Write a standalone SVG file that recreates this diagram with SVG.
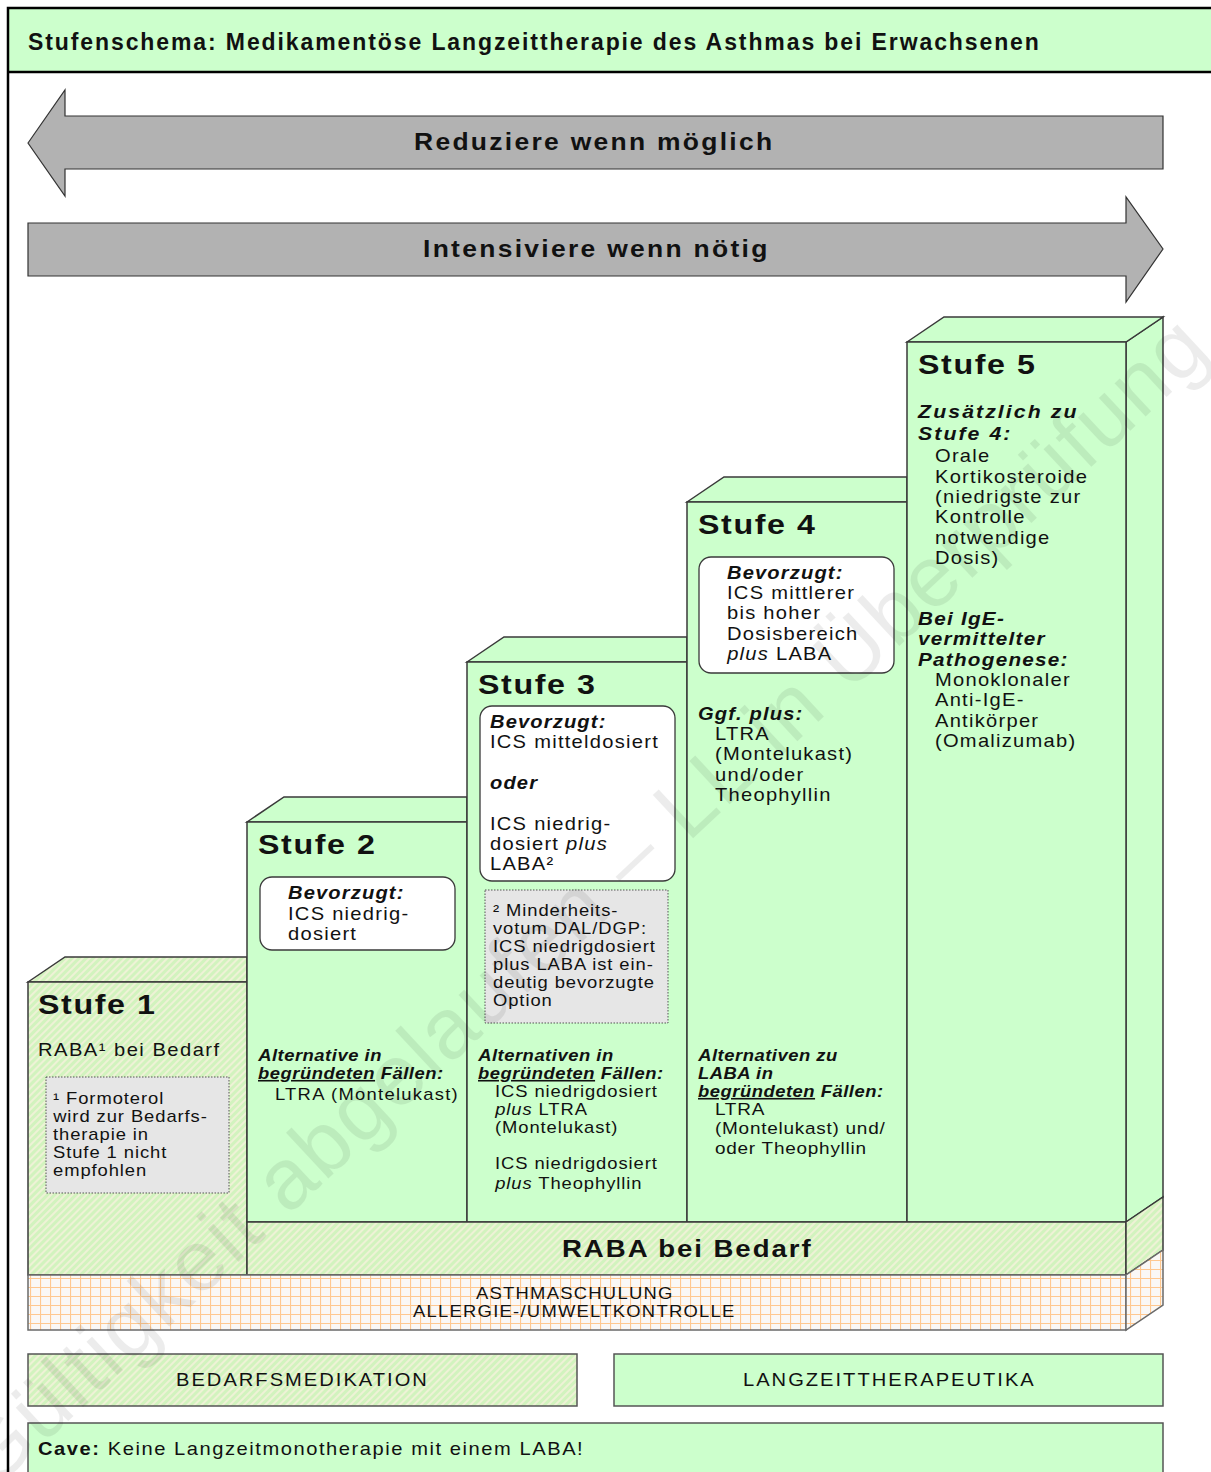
<svg xmlns="http://www.w3.org/2000/svg" width="1211" height="1472" viewBox="0 0 1211 1472">
<defs>
<pattern id="hatch" width="5" height="5" patternUnits="userSpaceOnUse" patternTransform="rotate(-45)">
<rect width="5" height="5" fill="#D2F3BE"/>
<rect width="5" height="2" fill="#EEF2D6"/>
</pattern>
<pattern id="grid" width="10" height="9" patternUnits="userSpaceOnUse">
<rect width="10" height="9" fill="#FAF8F6"/>
<path d="M0 0.5H10M0.5 0V9" stroke="#FFC890" stroke-width="1.2" fill="none"/>
</pattern>
<style>
text{font-family:"Liberation Sans",Arial,sans-serif;fill:#111}
text.x{transform-box:fill-box;transform-origin:0 50%;transform:scale(1.15,1)}
.title{font-weight:bold;font-size:23px;letter-spacing:1.9px}
.arr{font-weight:bold;font-size:23px;letter-spacing:2px}
.stufe{font-weight:bold;font-size:28px;letter-spacing:1.4px}
.hd{font-weight:bold;font-style:italic;font-size:17.5px;letter-spacing:1px}
.hd5{font-weight:bold;font-style:italic;font-size:18.5px;letter-spacing:1.8px}
.hd6{font-weight:bold;font-style:italic;font-size:18px;letter-spacing:1.1px}
.alt{font-weight:bold;font-style:italic;font-size:16px;letter-spacing:0.45px}
.b{font-size:17.5px;letter-spacing:1.1px}
.b5{font-size:17.5px;letter-spacing:1.1px}
.s{font-size:16px;letter-spacing:0.8px}
.s4{font-size:16.5px;letter-spacing:0.65px}
.lab{font-size:17.5px;letter-spacing:1.75px}
.band{font-size:16px;letter-spacing:1.1px}
.raba{font-weight:bold;font-size:24px;letter-spacing:1.7px}
.i{font-style:italic}
.u{text-decoration:underline}
.edge{stroke:#3a3a3a;stroke-width:1.5;stroke-linejoin:miter}
.green{fill:#CCFFCC}
.hatch{fill:url(#hatch)}
.grid{fill:url(#grid);stroke:#6a6a6a;stroke-width:1.5}
.wbox{fill:#FFFFFF;stroke:#3a3a3a;stroke-width:1.3}
.fn{fill:#E6E6E6;stroke:#555;stroke-width:1;stroke-dasharray:1.5 1.5}
.arrow{fill:#B2B2B2;stroke:#333;stroke-width:1.2}
</style>
</defs>

<rect x="0" y="0" width="1211" height="1472" fill="#FFFFFF"/>

<g id="frame">
<rect x="8" y="8" width="1210" height="64" fill="#CCFFCC"/>
<path d="M8 1472V8H1211M8 72H1211" stroke="#000" stroke-width="2.5" fill="none"/>
<text class="title" x="28" y="50">Stufenschema: Medikamentöse Langzeittherapie des Asthmas bei Erwachsenen</text>
</g>

<g id="arrows">
<g id="reduce">
<polygon class="arrow" points="28,143 65,90 65,116 1163,116 1163,169 65,169 65,196"/>
<text class="arr x" x="414" y="150">Reduziere wenn möglich</text>
</g>
<g id="intensify">
<polygon class="arrow" points="28,223 1126,223 1126,197 1163,249 1126,302 1126,276 28,276"/>
<text class="arr x" x="423" y="257">Intensiviere wenn nötig</text>
</g>
</g>

<g id="blocks">
<polygon class="green edge" points="1126,342 1163,317 1163,1197 1126,1222"/>
<polygon class="hatch edge" points="28,982 65,957 247,957 247,982"/>
<polygon class="green edge" points="247,822 284,797 467,797 467,822"/>
<polygon class="green edge" points="467,662 504,637 687,637 687,662"/>
<polygon class="green edge" points="687,502 724,477 907,477 907,502"/>
<polygon class="green edge" points="907,342 944,317 1163,317 1126,342"/>
<rect class="hatch edge" x="28" y="982" width="219" height="293"/>
<rect class="green edge" x="247" y="822" width="220" height="400"/>
<rect class="green edge" x="467" y="662" width="220" height="560"/>
<rect class="green edge" x="687" y="502" width="220" height="720"/>
<rect class="green edge" x="907" y="342" width="219" height="880"/>
</g>

<g id="stufe1">
<text class="stufe x" x="38" y="1014">Stufe 1</text>
<text class="b x" x="38" y="1056" style="letter-spacing:1.3px">RABA¹ bei Bedarf</text>
<rect class="fn" x="46" y="1077" width="183" height="116"/>
<text class="s x" x="53" y="1104">¹ Formoterol</text>
<text class="s x" x="53" y="1122">wird zur Bedarfs-</text>
<text class="s x" x="53" y="1140">therapie in</text>
<text class="s x" x="53" y="1158">Stufe 1 nicht</text>
<text class="s x" x="53" y="1176">empfohlen</text>
</g>

<g id="stufe2">
<text class="stufe x" x="258" y="854">Stufe 2</text>
<rect class="wbox" x="260" y="877" width="195" height="73" rx="12"/>
<text class="hd x" x="288" y="899">Bevorzugt:</text>
<text class="b x" x="288" y="920">ICS niedrig-</text>
<text class="b x" x="288" y="940">dosiert</text>
<text class="alt x" x="258" y="1061">Alternative in</text>
<text class="alt x" x="258" y="1079"><tspan class="u">begründeten</tspan> Fällen:</text>
<text class="s x" x="275" y="1100" style="letter-spacing:1.1px">LTRA (Montelukast)</text>
</g>

<g id="stufe3">
<text class="stufe x" x="478" y="694">Stufe 3</text>
<rect class="wbox" x="480" y="706" width="195" height="175" rx="12"/>
<text class="hd x" x="490" y="728">Bevorzugt:</text>
<text class="b x" x="490" y="748">ICS mitteldosiert</text>
<text class="hd x" x="490" y="789">oder</text>
<text class="b x" x="490" y="830">ICS niedrig-</text>
<text class="b x" x="490" y="850">dosiert <tspan class="i">plus</tspan></text>
<text class="b x" x="490" y="870">LABA²</text>
<rect class="fn" x="485" y="890" width="183" height="133"/>
<text class="s x" x="493" y="916">² Minderheits-</text>
<text class="s x" x="493" y="934">votum DAL/DGP:</text>
<text class="s x" x="493" y="952">ICS niedrigdosiert</text>
<text class="s x" x="493" y="970">plus LABA ist ein-</text>
<text class="s x" x="493" y="988">deutig bevorzugte</text>
<text class="s x" x="493" y="1006">Option</text>
<text class="alt x" x="478" y="1061">Alternativen in</text>
<text class="alt x" x="478" y="1079"><tspan class="u">begründeten</tspan> Fällen:</text>
<text class="s x" x="495" y="1097">ICS niedrigdosiert</text>
<text class="s x" x="495" y="1115"><tspan class="i">plus</tspan> LTRA</text>
<text class="s x" x="495" y="1133">(Montelukast)</text>
<text class="s x" x="495" y="1169">ICS niedrigdosiert</text>
<text class="s x" x="495" y="1189"><tspan class="i">plus</tspan> Theophyllin</text>
</g>

<g id="stufe4">
<text class="stufe x" x="698" y="534">Stufe 4</text>
<rect class="wbox" x="699" y="557" width="195" height="116" rx="12"/>
<text class="hd x" x="727" y="579">Bevorzugt:</text>
<text class="b x" x="727" y="599">ICS mittlerer</text>
<text class="b x" x="727" y="619">bis hoher</text>
<text class="b x" x="727" y="640">Dosisbereich</text>
<text class="b x" x="727" y="660"><tspan class="i">plus</tspan> LABA</text>
<text class="hd x" x="698" y="720">Ggf. plus:</text>
<text class="b x" x="715" y="740">LTRA</text>
<text class="b x" x="715" y="760">(Montelukast)</text>
<text class="b x" x="715" y="781">und/oder</text>
<text class="b x" x="715" y="801">Theophyllin</text>
<text class="alt x" x="698" y="1061">Alternativen zu</text>
<text class="alt x" x="698" y="1079">LABA in</text>
<text class="alt x" x="698" y="1097"><tspan class="u">begründeten</tspan> Fällen:</text>
<text class="s4 x" x="715" y="1115">LTRA</text>
<text class="s4 x" x="715" y="1134">(Montelukast) und/</text>
<text class="s4 x" x="715" y="1154">oder Theophyllin</text>
</g>

<g id="stufe5">
<text class="stufe x" x="918" y="374">Stufe 5</text>
<text class="hd5 x" x="918" y="418">Zusätzlich zu</text>
<text class="hd5 x" x="918" y="440">Stufe 4:</text>
<text class="b5 x" x="935" y="462">Orale</text>
<text class="b5 x" x="935" y="483">Kortikosteroide</text>
<text class="b5 x" x="935" y="503">(niedrigste zur</text>
<text class="b5 x" x="935" y="523">Kontrolle</text>
<text class="b5 x" x="935" y="544">notwendige</text>
<text class="b5 x" x="935" y="564">Dosis)</text>
<text class="hd6 x" x="918" y="625">Bei IgE-</text>
<text class="hd6 x" x="918" y="645">vermittelter</text>
<text class="hd6 x" x="918" y="666">Pathogenese:</text>
<text class="b5 x" x="935" y="686">Monoklonaler</text>
<text class="b5 x" x="935" y="706">Anti-IgE-</text>
<text class="b5 x" x="935" y="727">Antikörper</text>
<text class="b5 x" x="935" y="747">(Omalizumab)</text>
</g>

<g id="raba-band">
<rect class="hatch edge" x="247" y="1222" width="879" height="53"/>
<polygon class="hatch edge" points="1126,1222 1163,1197 1163,1250 1126,1275"/>
<text class="raba x" x="562" y="1257">RABA bei Bedarf</text>
</g>

<g id="schulung-band">
<rect class="grid" x="28" y="1275" width="1098" height="55"/>
<polygon class="grid" points="1126,1275 1163,1250 1163,1305 1126,1330"/>
<text class="band x" x="476" y="1299">ASTHMASCHULUNG</text>
<text class="band x" x="413" y="1317">ALLERGIE-/UMWELTKONTROLLE</text>
</g>

<g id="legend-bedarf">
<rect class="hatch edge" x="28" y="1354" width="549" height="52" style="stroke:#555"/>
<text class="lab x" x="176" y="1386">BEDARFSMEDIKATION</text>
</g>
<g id="legend-langzeit">
<rect class="green edge" x="614" y="1354" width="549" height="52" style="stroke:#555"/>
<text class="lab x" x="743" y="1386">LANGZEITTHERAPEUTIKA</text>
</g>
<g id="cave">
<rect class="green edge" x="28" y="1423" width="1135" height="60" style="stroke:#555"/>
<text class="lab x" x="38" y="1455" style="letter-spacing:1.35px"><tspan font-weight="bold">Cave:</tspan> Keine Langzeitmonotherapie mit einem LABA!</text>
</g>

<g id="watermark" opacity="0.07">
<text x="0" y="0" transform="translate(-8,1492) rotate(-43)" style="font-size:86px;letter-spacing:2px;fill:#000">Gültigkeit abgelaufen – LL in Überprüfung</text>
</g>
</svg>
